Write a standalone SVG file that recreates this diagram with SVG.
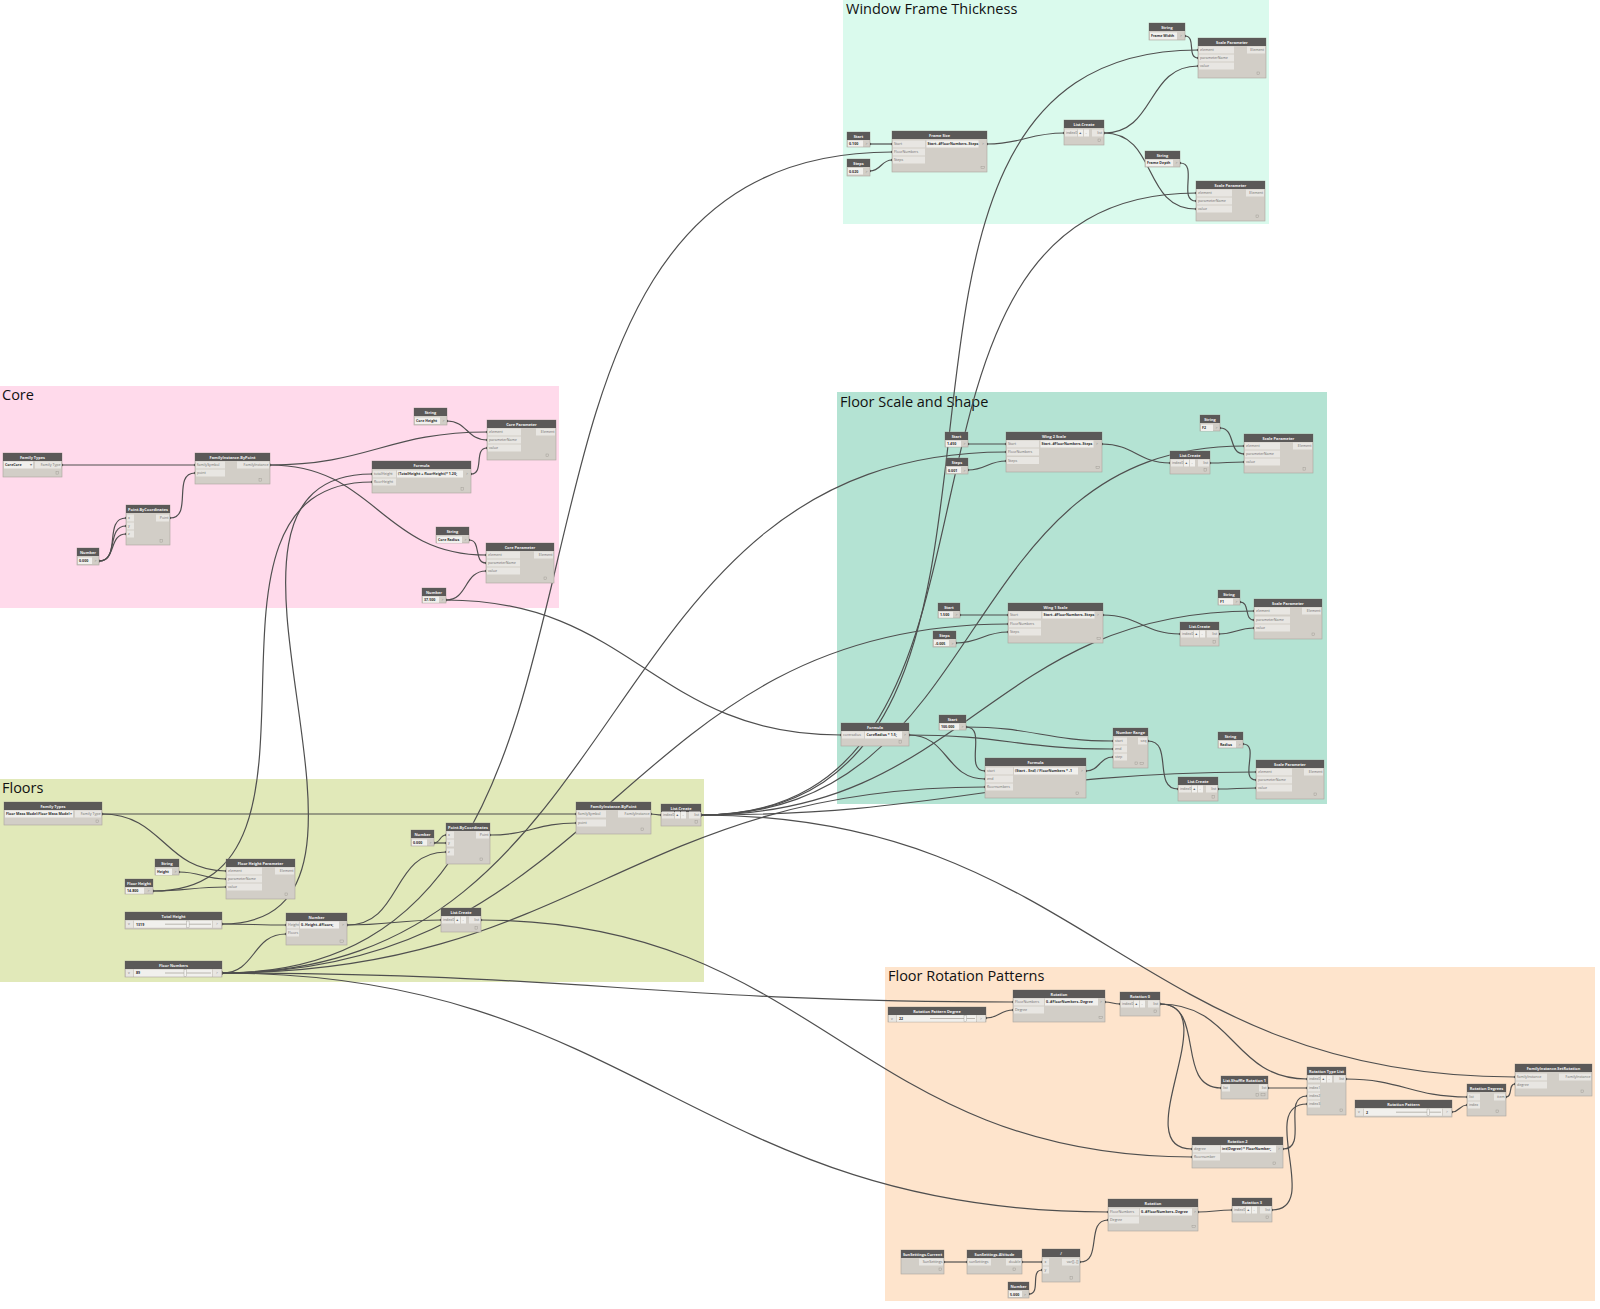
<svg xmlns="http://www.w3.org/2000/svg" width="1600" height="1309" viewBox="0 0 1600 1309">
<style>
.bg{stroke:none}
.gt{font-family:"Open Sans","Noto Sans",sans-serif;font-size:14.5px;fill:#111}
.bd{fill:#d2cec7;stroke:#aaa59d;stroke-width:.6}
.hd{fill:#5b5958}
.pc{fill:#e8e6e2}
.vc{fill:#f1f0ed}
.ht{font-family:"Open Sans","Noto Sans",sans-serif;font-size:3.9px;font-weight:700;fill:#f2f2f2;text-anchor:middle}
.pt{font-family:"Open Sans","Noto Sans",sans-serif;font-size:3.6px;fill:#6e6e6e}
.po{font-family:"Open Sans","Noto Sans",sans-serif;font-size:3.6px;fill:#6e6e6e;text-anchor:end}
.vt{font-family:"Open Sans","Noto Sans",sans-serif;font-size:3.6px;font-weight:700;fill:#2d2d2d}
.ic{fill:none;stroke:#9a968f;stroke-width:.4}
.tr{stroke:#b9b5ae;stroke-width:1}
.th{fill:#f4f3f1;stroke:#9a968f;stroke-width:.4}
.w{fill:none;stroke:#4f4f4f;stroke-width:1.2;marker-start:url(#dot);marker-end:url(#dot)}
</style>
<defs>
<marker id="dot" markerUnits="userSpaceOnUse" markerWidth="4" markerHeight="4" refX="2" refY="2"><circle cx="2" cy="2" r="1.2" fill="#333"/></marker>
</defs>
<rect width="1600" height="1309" fill="#ffffff"/>
<g id="groups">
<rect class="bg" x="843" y="0" width="426" height="224" fill="#dafaed"/>
<text class="gt" x="846" y="14">Window Frame Thickness</text>
<rect class="bg" x="0" y="386" width="559" height="222" fill="#ffdaeb"/>
<text class="gt" x="2" y="400">Core</text>
<rect class="bg" x="0" y="779" width="704" height="203" fill="#e1e9b9"/>
<text class="gt" x="2" y="793">Floors</text>
<rect class="bg" x="837" y="392" width="490" height="412" fill="#b4e3d3"/>
<text class="gt" x="840" y="407">Floor Scale and Shape</text>
<rect class="bg" x="885" y="967" width="710" height="334" fill="#fee4cc"/>
<text class="gt" x="888" y="981">Floor Rotation Patterns</text>
</g>
<g id="connectors">
<path class="w" d="M870,144 C880,144 882,144 892,144"/>
<path class="w" d="M870,171 C881,171 881,160 892,160"/>
<path class="w" d="M222,973 C699,973 415,152 892,152"/>
<path class="w" d="M987,144 C1022,144 1029,133 1064,133"/>
<path class="w" d="M1104,133 C1156,133 1146,66 1198,66"/>
<path class="w" d="M1104,133 C1158,133 1142,209 1196,209"/>
<path class="w" d="M1185,36 C1196.5,36 1186.5,58 1198,58"/>
<path class="w" d="M1180,163 C1198.5,163 1177.5,201 1196,201"/>
<path class="w" d="M701,815 C1111.5,815 787.5,50 1198,50"/>
<path class="w" d="M701,815 C1058.7,815 838.3,193 1196,193"/>
<path class="w" d="M62,465 C121.9,465 135.1,465 195,465"/>
<path class="w" d="M170,518 C193.2,518 171.8,473 195,473"/>
<path class="w" d="M99,561 C121.9,561 103.1,518 126,518"/>
<path class="w" d="M99,561 C118.9,561 106.1,526 126,526"/>
<path class="w" d="M99,561 C116.2,561 108.8,534 126,534"/>
<path class="w" d="M270,465 C368.8,465 388.2,432 487,432"/>
<path class="w" d="M270,465 C375.3,465 380.7,555 486,555"/>
<path class="w" d="M447,421 C466.9,421 467.1,440 487,440"/>
<path class="w" d="M471,474 C484.7,474 473.3,448 487,448"/>
<path class="w" d="M469,540 C481.9,540 473.1,563 486,563"/>
<path class="w" d="M446,600 C468.2,600 463.8,571 486,571"/>
<path class="w" d="M446,600 C633.8,600 653.2,735 841,735"/>
<path class="w" d="M222,924 C435.4,924 158.6,474 372,474"/>
<path class="w" d="M153,891 C361.8,891 163.2,482 372,482"/>
<path class="w" d="M102,814 C315.3,814 362.7,814 576,814"/>
<path class="w" d="M102,814 C163.4,814 164.6,871 226,871"/>
<path class="w" d="M179,872 C200.4,872 204.6,879 226,879"/>
<path class="w" d="M153,891 C185.9,891 193.1,887 226,887"/>
<path class="w" d="M222,924 C250.8,924 257.2,925 286,925"/>
<path class="w" d="M222,973 C255.7,973 252.3,934 286,934"/>
<path class="w" d="M347,925 C402.4,925 390.6,852 446,852"/>
<path class="w" d="M347,925 C389.4,925 398.6,920 441,920"/>
<path class="w" d="M434,843 C440.5,843 439.5,835 446,835"/>
<path class="w" d="M434,843 L446,843"/>
<path class="w" d="M490,835 C529,835 537,823 576,823"/>
<path class="w" d="M651,814 C655,814 657,815 661,815"/>
<path class="w" d="M481,920 C818.3,920 854.7,1157 1192,1157"/>
<path class="w" d="M222,973 C645.6,973 582.4,452 1006,452"/>
<path class="w" d="M222,973 C609,973 621,624 1008,624"/>
<path class="w" d="M222,973 C575.4,973 631.6,787 985,787"/>
<path class="w" d="M222,973 C578.2,973 656.8,1002 1013,1002"/>
<path class="w" d="M222,973 C635,973 695,1212 1108,1212"/>
<path class="w" d="M968,444 C985.1,444 988.9,444 1006,444"/>
<path class="w" d="M968,470 C985.6,470 988.4,461 1006,461"/>
<path class="w" d="M1102,444 C1133.8,444 1138.2,463 1170,463"/>
<path class="w" d="M1210,463 C1225.3,463 1228.7,462 1244,462"/>
<path class="w" d="M1220,428 C1235.9,428 1228.1,454 1244,454"/>
<path class="w" d="M701,815 C996.4,815 948.6,446 1244,446"/>
<path class="w" d="M960,615 C981.6,615 986.4,615 1008,615"/>
<path class="w" d="M956,643 C979.9,643 984.1,632 1008,632"/>
<path class="w" d="M1103,615 C1138.7,615 1144.3,634 1180,634"/>
<path class="w" d="M1219,634 C1235,634 1238,628 1254,628"/>
<path class="w" d="M1240,602 C1250.3,602 1243.7,620 1254,620"/>
<path class="w" d="M701,815 C966.2,815 988.8,611 1254,611"/>
<path class="w" d="M909,735 C1001,735 1021,749 1113,749"/>
<path class="w" d="M909,735 C948.5,735 945.5,779 985,779"/>
<path class="w" d="M966,727 C1032.5,727 1046.5,741 1113,741"/>
<path class="w" d="M966,727 C987.6,727 963.4,771 985,771"/>
<path class="w" d="M1086,771 C1099.7,771 1099.3,757 1113,757"/>
<path class="w" d="M1148,741 C1173.5,741 1152.5,789 1178,789"/>
<path class="w" d="M1218,789 C1235.1,789 1238.9,788 1256,788"/>
<path class="w" d="M1243,744 C1260.2,744 1238.8,780 1256,780"/>
<path class="w" d="M701,815 C951.5,815 1005.5,772 1256,772"/>
<path class="w" d="M986,1018 C998.7,1018 1000.3,1010 1013,1010"/>
<path class="w" d="M1105,1002 C1111.8,1002 1113.2,1004 1120,1004"/>
<path class="w" d="M1160,1004 C1206.7,1004 1174.3,1088 1221,1088"/>
<path class="w" d="M1160,1004 C1234.3,1004 1232.7,1079 1307,1079"/>
<path class="w" d="M1160,1004 C1226.8,1004 1125.2,1149 1192,1149"/>
<path class="w" d="M1268,1088 C1285.6,1088 1289.4,1088 1307,1088"/>
<path class="w" d="M1283,1149 C1309.2,1149 1280.8,1096 1307,1096"/>
<path class="w" d="M1272,1210 C1322.2,1210 1256.8,1104 1307,1104"/>
<path class="w" d="M1198,1212 C1213.3,1212 1216.7,1210 1232,1210"/>
<path class="w" d="M944,1262 L967,1262"/>
<path class="w" d="M1022,1262 L1042,1262"/>
<path class="w" d="M1029,1294 C1041.3,1294 1029.7,1270 1042,1270"/>
<path class="w" d="M1080,1262 C1102.7,1262 1085.3,1220 1108,1220"/>
<path class="w" d="M1346,1079 C1401,1079 1412,1097 1467,1097"/>
<path class="w" d="M1452,1112 C1459.5,1112 1459.5,1105 1467,1105"/>
<path class="w" d="M1506,1097 C1513.1,1097 1507.9,1084 1515,1084"/>
<path class="w" d="M701,815 C1085.8,815 1130.2,1077 1515,1077"/>
</g>

<!-- WINDOW FRAME THICKNESS -->
<g id="wf-string-width">
<rect class="bd" x="1149" y="23" width="36" height="17"/><rect class="hd" x="1149" y="23" width="36" height="8"/>
<text class="ht" x="1167" y="28.7">String</text>
<rect class="vc" x="1150" y="32.4" width="27" height="7"/><text class="vt" x="1151" y="37.3" font-weight="400">Frame Width</text><text class="pt" x="1180" y="37.3">&gt;</text>
</g>
<g id="wf-scale-param-1">
<rect class="bd" x="1198" y="38" width="68" height="40"/><rect class="hd" x="1198" y="38" width="68" height="8"/>
<text class="ht" x="1232" y="43.7">Scale Parameter</text>
<rect class="pc" x="1199" y="46.5" width="35" height="7"/><text class="pt" x="1200" y="51.3">element</text>
<rect class="pc" x="1199" y="54.5" width="35" height="7"/><text class="pt" x="1200" y="59.3">parameterName</text>
<rect class="pc" x="1199" y="62.5" width="35" height="7"/><text class="pt" x="1200" y="67.3">value</text>
<rect class="pc" x="1247" y="46.5" width="18" height="7"/><text class="po" x="1264" y="51.3">Element</text>
<rect class="ic" x="1257" y="72" width="2.6" height="2.6"/>
</g>
<g id="wf-start">
<rect class="bd" x="847" y="132" width="23" height="15"/><rect class="hd" x="847" y="132" width="23" height="8"/>
<text class="ht" x="858.5" y="137.7">Start</text>
<rect class="vc" x="848" y="140.5" width="15" height="6"/><text class="vt" x="849" y="145">0.100</text><text class="pt" x="865.5" y="145">&gt;</text>
</g>
<g id="wf-frame-size">
<rect class="bd" x="892" y="131" width="95" height="41"/><rect class="hd" x="892" y="131" width="95" height="8"/>
<text class="ht" x="939.5" y="136.7">Frame Size</text>
<rect class="pc" x="893" y="140.5" width="32" height="7"/><text class="pt" x="894" y="145.3">Start</text>
<rect class="pc" x="893" y="148.5" width="32" height="7"/><text class="pt" x="894" y="153.3">FloorNumbers</text>
<rect class="pc" x="893" y="156.5" width="32" height="7"/><text class="pt" x="894" y="161.3">Steps</text>
<rect class="vc" x="926.5" y="140.5" width="52" height="7"/><text class="vt" x="927.5" y="145.3">Start..#FloorNumbers..Steps</text>
<text class="pt" x="982" y="145.3">&gt;</text>
<rect class="ic" x="981" y="166.5" width="3.5" height="2.2"/>
</g>
<g id="wf-steps">
<rect class="bd" x="847" y="159" width="23" height="17"/><rect class="hd" x="847" y="159" width="23" height="8"/>
<text class="ht" x="858.5" y="164.7">Steps</text>
<rect class="vc" x="848" y="168" width="15" height="6.5"/><text class="vt" x="849" y="172.7">0.020</text><text class="pt" x="865.5" y="172.7">&gt;</text>
</g>
<g id="wf-list-create">
<rect class="bd" x="1064" y="120" width="40" height="25"/><rect class="hd" x="1064" y="120" width="40" height="8"/>
<text class="ht" x="1084" y="125.7">List.Create</text>
<rect class="pc" x="1065" y="129.5" width="12" height="7"/><text class="pt" x="1066" y="134.3">index0</text>
<rect class="vc" x="1078" y="129.5" width="5" height="7"/><text class="vt" x="1079.2" y="134.3">+</text>
<rect class="vc" x="1084" y="129.5" width="5" height="7"/><text class="pt" x="1085.6" y="134.3">-</text>
<rect class="pc" x="1092" y="129.5" width="11" height="7"/><text class="po" x="1102" y="134.3">list</text>
<rect class="ic" x="1098" y="139" width="2.6" height="2.6"/>
</g>
<g id="wf-string-depth">
<rect class="bd" x="1145" y="151" width="35" height="16"/><rect class="hd" x="1145" y="151" width="35" height="8"/>
<text class="ht" x="1162.5" y="156.7">String</text>
<rect class="vc" x="1146" y="159.7" width="27" height="6.5"/><text class="vt" x="1147" y="164.3" font-weight="400">Frame Depth</text><text class="pt" x="1175.5" y="164.3">&gt;</text>
</g>
<g id="wf-scale-param-2">
<rect class="bd" x="1196" y="181" width="69" height="40"/><rect class="hd" x="1196" y="181" width="69" height="8"/>
<text class="ht" x="1230.5" y="186.7">Scale Parameter</text>
<rect class="pc" x="1197" y="189.5" width="35" height="7"/><text class="pt" x="1198" y="194.3">element</text>
<rect class="pc" x="1197" y="197.5" width="35" height="7"/><text class="pt" x="1198" y="202.3">parameterName</text>
<rect class="pc" x="1197" y="205.5" width="35" height="7"/><text class="pt" x="1198" y="210.3">value</text>
<rect class="pc" x="1246" y="189.5" width="18" height="7"/><text class="po" x="1263" y="194.3">Element</text>
<rect class="ic" x="1256" y="215" width="2.6" height="2.6"/>
</g>

<!-- CORE -->
<g id="core-family-types">
<rect class="bd" x="3" y="453" width="59" height="24"/><rect class="hd" x="3" y="453" width="59" height="8"/>
<text class="ht" x="32.5" y="458.7">Family Types</text>
<rect class="vc" x="4" y="461.5" width="29" height="7"/><text class="vt" x="5" y="466.3" font-weight="400">CoreCore</text><text class="pt" x="30" y="466.3">▾</text>
<rect class="pc" x="35" y="461.5" width="26" height="7"/><text class="po" x="60.5" y="466.3">Family Type</text>
<rect class="ic" x="56" y="471.5" width="2.6" height="2.6"/>
</g>
<g id="core-familyinstance-bypoint">
<rect class="bd" x="195" y="453" width="75" height="31"/><rect class="hd" x="195" y="453" width="75" height="8"/>
<text class="ht" x="232.5" y="458.7">FamilyInstance.ByPoint</text>
<rect class="pc" x="196" y="461.5" width="29" height="7"/><text class="pt" x="197" y="466.3">familySymbol</text>
<rect class="pc" x="196" y="469.5" width="29" height="7"/><text class="pt" x="197" y="474.3">point</text>
<rect class="pc" x="237" y="461.5" width="32" height="7"/><text class="po" x="268.5" y="466.3">FamilyInstance</text>
<rect class="ic" x="259" y="478.5" width="2.6" height="2.6"/>
</g>
<g id="core-point-bycoordinates">
<rect class="bd" x="126" y="505" width="44" height="40"/><rect class="hd" x="126" y="505" width="44" height="8"/>
<text class="ht" x="148" y="510.7">Point.ByCoordinates</text>
<rect class="pc" x="127" y="514.5" width="7" height="7"/><text class="pt" x="128" y="519.3">x</text>
<rect class="pc" x="127" y="522.5" width="7" height="7"/><text class="pt" x="128" y="527.3">y</text>
<rect class="pc" x="127" y="530.5" width="7" height="7"/><text class="pt" x="128" y="535.3">z</text>
<rect class="pc" x="156" y="514.5" width="13" height="7"/><text class="po" x="168.5" y="519.3">Point</text>
<rect class="ic" x="160" y="539.5" width="2.6" height="2.6"/>
</g>
<g id="core-number">
<rect class="bd" x="77" y="548" width="22" height="17"/><rect class="hd" x="77" y="548" width="22" height="8"/>
<text class="ht" x="88" y="553.7">Number</text>
<rect class="vc" x="78" y="557.5" width="14" height="6.5"/><text class="vt" x="79" y="562.2">0.000</text><text class="pt" x="94.5" y="562.2">&gt;</text>
</g>
<g id="core-string-height">
<rect class="bd" x="414" y="408" width="33" height="17"/><rect class="hd" x="414" y="408" width="33" height="8"/>
<text class="ht" x="430.5" y="413.7">String</text>
<rect class="vc" x="415" y="417.5" width="25" height="6.5"/><text class="vt" x="416" y="422.2" font-weight="400">Core Height</text><text class="pt" x="442.5" y="422.2">&gt;</text>
</g>
<g id="core-parameter-1">
<rect class="bd" x="487" y="420" width="69" height="40"/><rect class="hd" x="487" y="420" width="69" height="8"/>
<text class="ht" x="521.5" y="425.7">Core Parameter</text>
<rect class="pc" x="488" y="428.5" width="33" height="7"/><text class="pt" x="489" y="433.3">element</text>
<rect class="pc" x="488" y="436.5" width="33" height="7"/><text class="pt" x="489" y="441.3">parameterName</text>
<rect class="pc" x="488" y="444.5" width="33" height="7"/><text class="pt" x="489" y="449.3">value</text>
<rect class="pc" x="536" y="428.5" width="19" height="7"/><text class="po" x="554.5" y="433.3">Element</text>
<rect class="ic" x="546" y="454" width="2.6" height="2.6"/>
</g>
<g id="core-formula">
<rect class="bd" x="372" y="461" width="99" height="32"/><rect class="hd" x="372" y="461" width="99" height="8"/>
<text class="ht" x="421.5" y="466.7">Formula</text>
<rect class="pc" x="373" y="470.5" width="23" height="7"/><text class="pt" x="374" y="475.3">totalHeight</text>
<rect class="pc" x="373" y="478.5" width="23" height="7"/><text class="pt" x="374" y="483.3">floorHeight</text>
<rect class="vc" x="397" y="470.5" width="66" height="7"/><text class="vt" x="398" y="475.3" font-size="3.3">(TotalHeight + floorHeight)* 1.20;</text>
<text class="pt" x="466" y="475.3">&gt;</text>
<rect class="ic" x="461" y="487.5" width="2.6" height="2.6"/>
</g>
<g id="core-string-radius">
<rect class="bd" x="436" y="527" width="33" height="16"/><rect class="hd" x="436" y="527" width="33" height="8"/>
<text class="ht" x="452.5" y="532.7">String</text>
<rect class="vc" x="437" y="536.5" width="25" height="6.5"/><text class="vt" x="438" y="541.2" font-weight="400">Core Radius</text><text class="pt" x="464.5" y="541.2">&gt;</text>
</g>
<g id="core-parameter-2">
<rect class="bd" x="486" y="543" width="68" height="40"/><rect class="hd" x="486" y="543" width="68" height="8"/>
<text class="ht" x="520" y="548.7">Core Parameter</text>
<rect class="pc" x="487" y="551.5" width="33" height="7"/><text class="pt" x="488" y="556.3">element</text>
<rect class="pc" x="487" y="559.5" width="33" height="7"/><text class="pt" x="488" y="564.3">parameterName</text>
<rect class="pc" x="487" y="567.5" width="33" height="7"/><text class="pt" x="488" y="572.3">value</text>
<rect class="pc" x="534" y="551.5" width="19" height="7"/><text class="po" x="552.5" y="556.3">Element</text>
<rect class="ic" x="544" y="577" width="2.6" height="2.6"/>
</g>
<g id="core-number-radius">
<rect class="bd" x="422" y="588" width="24" height="15"/><rect class="hd" x="422" y="588" width="24" height="8"/>
<text class="ht" x="434" y="593.7">Number</text>
<rect class="vc" x="423" y="596.7" width="16" height="6"/><text class="vt" x="424" y="601.2">37.500</text><text class="pt" x="441.5" y="601.2">&gt;</text>
</g>

<!-- FLOORS -->
<g id="fl-family-types">
<rect class="bd" x="4" y="802" width="98" height="23"/><rect class="hd" x="4" y="802" width="98" height="8"/>
<text class="ht" x="53" y="807.7">Family Types</text>
<rect class="vc" x="5" y="810.5" width="68" height="7"/><text class="vt" x="6" y="815.3" font-weight="400" font-size="3.4">Floor Mass Model:Floor Mass Model</text><text class="pt" x="70" y="815.3">▾</text>
<rect class="pc" x="75" y="810.5" width="26" height="7"/><text class="po" x="100.5" y="815.3">Family Type</text>
<rect class="ic" x="96" y="820" width="2.6" height="2.6"/>
</g>
<g id="fl-string-height">
<rect class="bd" x="155" y="859" width="24" height="16"/><rect class="hd" x="155" y="859" width="24" height="8"/>
<text class="ht" x="167" y="864.7">String</text>
<rect class="vc" x="156" y="868.5" width="16" height="6.5"/><text class="vt" x="157" y="873.2" font-weight="400">Height</text><text class="pt" x="174.5" y="873.2">&gt;</text>
</g>
<g id="fl-floor-height">
<rect class="bd" x="125" y="879" width="28" height="15"/><rect class="hd" x="125" y="879" width="28" height="8"/>
<text class="ht" x="139" y="884.7">Floor Height</text>
<rect class="vc" x="126" y="887.7" width="18" height="6"/><text class="vt" x="127" y="892.2">14.800</text><text class="pt" x="147.5" y="892.2">&gt;</text>
</g>
<g id="fl-floor-height-parameter">
<rect class="bd" x="226" y="859" width="69" height="40"/><rect class="hd" x="226" y="859" width="69" height="8"/>
<text class="ht" x="260.5" y="864.7">Floor Height Parameter</text>
<rect class="pc" x="227" y="867.5" width="35" height="7"/><text class="pt" x="228" y="872.3">element</text>
<rect class="pc" x="227" y="875.5" width="35" height="7"/><text class="pt" x="228" y="880.3">parameterName</text>
<rect class="pc" x="227" y="883.5" width="35" height="7"/><text class="pt" x="228" y="888.3">value</text>
<rect class="pc" x="275" y="867.5" width="19" height="7"/><text class="po" x="293.5" y="872.3">Element</text>
<rect class="ic" x="285" y="893" width="2.6" height="2.6"/>
</g>
<g id="fl-total-height">
<rect class="bd" x="125" y="912" width="97" height="17"/><rect class="hd" x="125" y="912" width="97" height="8"/>
<text class="ht" x="173.5" y="917.7">Total Height</text>
<rect class="pc" x="126" y="920.7" width="7" height="7"/><text class="pt" x="128" y="925.3">v</text>
<rect class="vc" x="134" y="920.7" width="78" height="7"/><text class="vt" x="136" y="925.5" font-weight="400">1319</text>
<line class="tr" x1="165" y1="924.2" x2="211" y2="924.2"/><rect class="th" x="186.5" y="921" width="2.6" height="6.4"/>
<rect class="pc" x="213" y="920.7" width="8" height="7"/><text class="pt" x="216" y="925.3">&gt;</text>
</g>
<g id="fl-floor-numbers">
<rect class="bd" x="125" y="961" width="97" height="16"/><rect class="hd" x="125" y="961" width="97" height="8"/>
<text class="ht" x="173.5" y="966.7">Floor Numbers</text>
<rect class="pc" x="126" y="969.5" width="7" height="7"/><text class="pt" x="128" y="974.2">v</text>
<rect class="vc" x="134" y="969.5" width="78" height="7"/><text class="vt" x="136" y="974.4" font-weight="400">89</text>
<line class="tr" x1="165" y1="973" x2="211" y2="973"/><rect class="th" x="184" y="969.8" width="2.6" height="6.4"/>
<rect class="pc" x="213" y="969.5" width="8" height="7"/><text class="pt" x="216" y="974.2">&gt;</text>
</g>
<g id="fl-number-code">
<rect class="bd" x="286" y="913" width="61" height="32"/><rect class="hd" x="286" y="913" width="61" height="8"/>
<text class="ht" x="316.5" y="918.7">Number</text>
<rect class="pc" x="287" y="921.5" width="12" height="7"/><text class="pt" x="288" y="926.3">Height</text>
<rect class="pc" x="287" y="929.5" width="12" height="7"/><text class="pt" x="288" y="934.3">Floors</text>
<rect class="vc" x="300" y="921.5" width="39" height="7"/><text class="vt" x="301" y="926.3">0..Height..#Floors;</text>
<text class="pt" x="342" y="926.3">&gt;</text>
<rect class="ic" x="340" y="940" width="3.5" height="2.2"/>
</g>
<g id="fl-number-zero">
<rect class="bd" x="411" y="830" width="23" height="16"/><rect class="hd" x="411" y="830" width="23" height="8"/>
<text class="ht" x="422.5" y="835.7">Number</text>
<rect class="vc" x="412" y="839.5" width="15" height="6"/><text class="vt" x="413" y="844">0.000</text><text class="pt" x="429.5" y="844">&gt;</text>
</g>
<g id="fl-point-bycoordinates">
<rect class="bd" x="446" y="823" width="44" height="41"/><rect class="hd" x="446" y="823" width="44" height="8"/>
<text class="ht" x="468" y="828.7">Point.ByCoordinates</text>
<rect class="pc" x="447" y="831.5" width="7" height="7"/><text class="pt" x="448" y="836.3">x</text>
<rect class="pc" x="447" y="839.5" width="7" height="7"/><text class="pt" x="448" y="844.3">y</text>
<rect class="pc" x="447" y="848.5" width="7" height="7"/><text class="pt" x="448" y="853.3">z</text>
<rect class="pc" x="476" y="831.5" width="13" height="7"/><text class="po" x="488.5" y="836.3">Point</text>
<rect class="ic" x="480" y="858" width="2.6" height="2.6"/>
</g>
<g id="fl-list-create-1">
<rect class="bd" x="441" y="908" width="40" height="24"/><rect class="hd" x="441" y="908" width="40" height="8"/>
<text class="ht" x="461" y="913.7">List.Create</text>
<rect class="pc" x="442" y="916.5" width="12" height="7"/><text class="pt" x="443" y="921.3">index0</text>
<rect class="vc" x="455" y="916.5" width="5" height="7"/><text class="vt" x="456.2" y="921.3">+</text>
<rect class="vc" x="461" y="916.5" width="5" height="7"/><text class="pt" x="462.6" y="921.3">-</text>
<rect class="pc" x="469" y="916.5" width="11" height="7"/><text class="po" x="479" y="921.3">list</text>
<rect class="ic" x="475" y="926.5" width="2.6" height="2.6"/>
</g>
<g id="fl-familyinstance-bypoint">
<rect class="bd" x="576" y="802" width="75" height="32"/><rect class="hd" x="576" y="802" width="75" height="8"/>
<text class="ht" x="613.5" y="807.7">FamilyInstance.ByPoint</text>
<rect class="pc" x="577" y="810.5" width="29" height="7"/><text class="pt" x="578" y="815.3">familySymbol</text>
<rect class="pc" x="577" y="819.5" width="29" height="7"/><text class="pt" x="578" y="824.3">point</text>
<rect class="pc" x="618" y="810.5" width="32" height="7"/><text class="po" x="649.5" y="815.3">FamilyInstance</text>
<rect class="ic" x="641" y="828" width="2.6" height="2.6"/>
</g>
<g id="fl-list-create-2">
<rect class="bd" x="661" y="804" width="40" height="22"/><rect class="hd" x="661" y="804" width="40" height="8"/>
<text class="ht" x="681" y="809.7">List.Create</text>
<rect class="pc" x="662" y="811.5" width="12" height="7"/><text class="pt" x="663" y="816.3">index0</text>
<rect class="vc" x="675" y="811.5" width="5" height="7"/><text class="vt" x="676.2" y="816.3">+</text>
<rect class="vc" x="681" y="811.5" width="5" height="7"/><text class="pt" x="682.6" y="816.3">-</text>
<rect class="pc" x="689" y="811.5" width="11" height="7"/><text class="po" x="699" y="816.3">list</text>
<rect class="ic" x="695" y="820.5" width="2.6" height="2.6"/>
</g>

<!-- FLOOR SCALE AND SHAPE -->
<g id="fs-start-wing2">
<rect class="bd" x="945" y="432" width="23" height="15"/><rect class="hd" x="945" y="432" width="23" height="8"/>
<text class="ht" x="956.5" y="437.7">Start</text>
<rect class="vc" x="946" y="440.7" width="15" height="6"/><text class="vt" x="947" y="445.2">1.450</text><text class="pt" x="963.5" y="445.2">&gt;</text>
</g>
<g id="fs-steps-wing2">
<rect class="bd" x="946" y="458" width="22" height="16"/><rect class="hd" x="946" y="458" width="22" height="8"/>
<text class="ht" x="957" y="463.7">Steps</text>
<rect class="vc" x="947" y="467" width="14" height="6"/><text class="vt" x="948" y="471.5">0.001</text><text class="pt" x="963.5" y="471.5">&gt;</text>
</g>
<g id="fs-wing2-scale">
<rect class="bd" x="1006" y="432" width="96" height="40"/><rect class="hd" x="1006" y="432" width="96" height="8"/>
<text class="ht" x="1054" y="437.7">Wing 2 Scale</text>
<rect class="pc" x="1007" y="440.5" width="32" height="7"/><text class="pt" x="1008" y="445.3">Start</text>
<rect class="pc" x="1007" y="448.5" width="32" height="7"/><text class="pt" x="1008" y="453.3">FloorNumbers</text>
<rect class="pc" x="1007" y="457" width="32" height="7"/><text class="pt" x="1008" y="461.8">Steps</text>
<rect class="vc" x="1040.5" y="440.5" width="53" height="7"/><text class="vt" x="1041.5" y="445.3">Start..#FloorNumbers..Steps</text>
<text class="pt" x="1096" y="445.3">&gt;</text>
<rect class="ic" x="1096" y="466.5" width="3.5" height="2.2"/>
</g>
<g id="fs-list-create-wing2">
<rect class="bd" x="1170" y="451" width="40" height="23"/><rect class="hd" x="1170" y="451" width="40" height="8"/>
<text class="ht" x="1190" y="456.7">List.Create</text>
<rect class="pc" x="1171" y="459.5" width="12" height="7"/><text class="pt" x="1172" y="464.3">index0</text>
<rect class="vc" x="1184" y="459.5" width="5" height="7"/><text class="vt" x="1185.2" y="464.3">+</text>
<rect class="vc" x="1190" y="459.5" width="5" height="7"/><text class="pt" x="1191.6" y="464.3">-</text>
<rect class="pc" x="1198" y="459.5" width="11" height="7"/><text class="po" x="1208" y="464.3">list</text>
<rect class="ic" x="1204" y="468.5" width="2.6" height="2.6"/>
</g>
<g id="fs-string-f2">
<rect class="bd" x="1200" y="415" width="20" height="16"/><rect class="hd" x="1200" y="415" width="20" height="8"/>
<text class="ht" x="1210" y="420.7">String</text>
<rect class="vc" x="1201" y="424.5" width="12" height="6.5"/><text class="vt" x="1202" y="429.2" font-weight="400">F2</text><text class="pt" x="1215.5" y="429.2">&gt;</text>
</g>
<g id="fs-scale-param-wing2">
<rect class="bd" x="1244" y="434" width="69" height="39"/><rect class="hd" x="1244" y="434" width="69" height="8"/>
<text class="ht" x="1278.5" y="439.7">Scale Parameter</text>
<rect class="pc" x="1245" y="442.5" width="35" height="7"/><text class="pt" x="1246" y="447.3">element</text>
<rect class="pc" x="1245" y="450.5" width="35" height="7"/><text class="pt" x="1246" y="455.3">parameterName</text>
<rect class="pc" x="1245" y="458.5" width="35" height="7"/><text class="pt" x="1246" y="463.3">value</text>
<rect class="pc" x="1293" y="442.5" width="19" height="7"/><text class="po" x="1311.5" y="447.3">Element</text>
<rect class="ic" x="1303" y="467.5" width="2.6" height="2.6"/>
</g>
<g id="fs-string-f1">
<rect class="bd" x="1218" y="590" width="22" height="15"/><rect class="hd" x="1218" y="590" width="22" height="8"/>
<text class="ht" x="1229" y="595.7">String</text>
<rect class="vc" x="1219" y="598.5" width="14" height="6"/><text class="vt" x="1220" y="603" font-weight="400">F1</text><text class="pt" x="1235.5" y="603">&gt;</text>
</g>
<g id="fs-scale-param-wing1">
<rect class="bd" x="1254" y="599" width="68" height="40"/><rect class="hd" x="1254" y="599" width="68" height="8"/>
<text class="ht" x="1288" y="604.7">Scale Parameter</text>
<rect class="pc" x="1255" y="607.5" width="35" height="7"/><text class="pt" x="1256" y="612.3">element</text>
<rect class="pc" x="1255" y="616.5" width="35" height="7"/><text class="pt" x="1256" y="621.3">parameterName</text>
<rect class="pc" x="1255" y="624.5" width="35" height="7"/><text class="pt" x="1256" y="629.3">value</text>
<rect class="pc" x="1302" y="607.5" width="19" height="7"/><text class="po" x="1320.5" y="612.3">Element</text>
<rect class="ic" x="1312" y="633" width="2.6" height="2.6"/>
</g>
<g id="fs-start-wing1">
<rect class="bd" x="938" y="603" width="22" height="15"/><rect class="hd" x="938" y="603" width="22" height="8"/>
<text class="ht" x="949" y="608.7">Start</text>
<rect class="vc" x="939" y="611.7" width="14" height="6"/><text class="vt" x="940" y="616.2">1.500</text><text class="pt" x="955.5" y="616.2">&gt;</text>
</g>
<g id="fs-wing1-scale">
<rect class="bd" x="1008" y="603" width="95" height="40"/><rect class="hd" x="1008" y="603" width="95" height="8"/>
<text class="ht" x="1055.5" y="608.7">Wing 1 Scale</text>
<rect class="pc" x="1009" y="611.5" width="32" height="7"/><text class="pt" x="1010" y="616.3">Start</text>
<rect class="pc" x="1009" y="620.5" width="32" height="7"/><text class="pt" x="1010" y="625.3">FloorNumbers</text>
<rect class="pc" x="1009" y="628.5" width="32" height="7"/><text class="pt" x="1010" y="633.3">Steps</text>
<rect class="vc" x="1042.5" y="611.5" width="52" height="7"/><text class="vt" x="1043.5" y="616.3">Start..#FloorNumbers..Steps</text>
<text class="pt" x="1097" y="616.3">&gt;</text>
<rect class="ic" x="1097" y="637.5" width="3.5" height="2.2"/>
</g>
<g id="fs-steps-wing1">
<rect class="bd" x="933" y="631" width="23" height="16"/><rect class="hd" x="933" y="631" width="23" height="8"/>
<text class="ht" x="944.5" y="636.7">Steps</text>
<rect class="vc" x="934" y="640" width="15" height="6"/><text class="vt" x="935" y="644.5">-0.005</text><text class="pt" x="951.5" y="644.5">&gt;</text>
</g>
<g id="fs-list-create-wing1">
<rect class="bd" x="1180" y="622" width="39" height="24"/><rect class="hd" x="1180" y="622" width="39" height="8"/>
<text class="ht" x="1199.5" y="627.7">List.Create</text>
<rect class="pc" x="1181" y="630.5" width="12" height="7"/><text class="pt" x="1182" y="635.3">index0</text>
<rect class="vc" x="1194" y="630.5" width="5" height="7"/><text class="vt" x="1195.2" y="635.3">+</text>
<rect class="vc" x="1200" y="630.5" width="5" height="7"/><text class="pt" x="1201.6" y="635.3">-</text>
<rect class="pc" x="1207" y="630.5" width="11" height="7"/><text class="po" x="1217" y="635.3">list</text>
<rect class="ic" x="1213" y="640.5" width="2.6" height="2.6"/>
</g>
<g id="fs-formula-coreradius">
<rect class="bd" x="841" y="723" width="68" height="23"/><rect class="hd" x="841" y="723" width="68" height="8"/>
<text class="ht" x="875" y="728.7">Formula</text>
<rect class="pc" x="842" y="731.5" width="22" height="7"/><text class="pt" x="843" y="736.3">coreradius</text>
<rect class="vc" x="865" y="731.5" width="37" height="7"/><text class="vt" x="866.5" y="736.3">CoreRadius * 1.5;</text>
<text class="pt" x="904" y="736.3">&gt;</text>
<rect class="ic" x="899" y="740.5" width="2.6" height="2.6"/>
</g>
<g id="fs-start-radius">
<rect class="bd" x="939" y="715" width="27" height="15"/><rect class="hd" x="939" y="715" width="27" height="8"/>
<text class="ht" x="952.5" y="720.7">Start</text>
<rect class="vc" x="940" y="723.7" width="19" height="6"/><text class="vt" x="941" y="728.2">100.000</text><text class="pt" x="961.5" y="728.2">&gt;</text>
</g>
<g id="fs-number-range">
<rect class="bd" x="1113" y="728" width="35" height="40"/><rect class="hd" x="1113" y="728" width="35" height="8"/>
<text class="ht" x="1130.5" y="733.7">Number Range</text>
<rect class="pc" x="1114" y="737.5" width="13" height="7"/><text class="pt" x="1115" y="742.3">start</text>
<rect class="pc" x="1114" y="745.5" width="13" height="7"/><text class="pt" x="1115" y="750.3">end</text>
<rect class="pc" x="1114" y="753.5" width="13" height="7"/><text class="pt" x="1115" y="758.3">step</text>
<rect class="pc" x="1138" y="737.5" width="9" height="7"/><text class="po" x="1146.5" y="742.3">seq</text>
<rect class="ic" x="1135" y="762" width="2.6" height="2.6"/><rect class="ic" x="1140" y="762.2" width="3.5" height="2.2"/>
</g>
<g id="fs-formula-step">
<rect class="bd" x="985" y="758" width="101" height="40"/><rect class="hd" x="985" y="758" width="101" height="8"/>
<text class="ht" x="1035.5" y="763.7">Formula</text>
<rect class="pc" x="986" y="767.5" width="27" height="7"/><text class="pt" x="987" y="772.3">start</text>
<rect class="pc" x="986" y="775.5" width="27" height="7"/><text class="pt" x="987" y="780.3">end</text>
<rect class="pc" x="986" y="783.5" width="27" height="7"/><text class="pt" x="987" y="788.3">floornumbers</text>
<rect class="vc" x="1014" y="767.5" width="64" height="7"/><text class="vt" x="1015" y="772.3">(Start - End) / FloorNumbers * -1</text>
<text class="pt" x="1081" y="772.3">&gt;</text>
<rect class="ic" x="1076" y="792" width="2.6" height="2.6"/>
</g>
<g id="fs-string-radius">
<rect class="bd" x="1218" y="732" width="25" height="16"/><rect class="hd" x="1218" y="732" width="25" height="8"/>
<text class="ht" x="1230.5" y="737.7">String</text>
<rect class="vc" x="1219" y="741" width="17" height="6.5"/><text class="vt" x="1220" y="745.6">Radius</text><text class="pt" x="1238.5" y="745.6">&gt;</text>
</g>
<g id="fs-list-create-radius">
<rect class="bd" x="1178" y="777" width="40" height="24"/><rect class="hd" x="1178" y="777" width="40" height="8"/>
<text class="ht" x="1198" y="782.7">List.Create</text>
<rect class="pc" x="1179" y="785.5" width="12" height="7"/><text class="pt" x="1180" y="790.3">index0</text>
<rect class="vc" x="1192" y="785.5" width="5" height="7"/><text class="vt" x="1193.2" y="790.3">+</text>
<rect class="vc" x="1198" y="785.5" width="5" height="7"/><text class="pt" x="1199.6" y="790.3">-</text>
<rect class="pc" x="1206" y="785.5" width="11" height="7"/><text class="po" x="1216" y="790.3">list</text>
<rect class="ic" x="1212" y="795.5" width="2.6" height="2.6"/>
</g>
<g id="fs-scale-param-radius">
<rect class="bd" x="1256" y="760" width="68" height="39"/><rect class="hd" x="1256" y="760" width="68" height="8"/>
<text class="ht" x="1290" y="765.7">Scale Parameter</text>
<rect class="pc" x="1257" y="768.5" width="35" height="7"/><text class="pt" x="1258" y="773.3">element</text>
<rect class="pc" x="1257" y="776.5" width="35" height="7"/><text class="pt" x="1258" y="781.3">parameterName</text>
<rect class="pc" x="1257" y="784.5" width="35" height="7"/><text class="pt" x="1258" y="789.3">value</text>
<rect class="pc" x="1304" y="768.5" width="19" height="7"/><text class="po" x="1322.5" y="773.3">Element</text>
<rect class="ic" x="1314" y="793" width="2.6" height="2.6"/>
</g>

<!-- FLOOR ROTATION PATTERNS -->
<g id="rp-rotation-1">
<rect class="bd" x="1013" y="990" width="92" height="32"/><rect class="hd" x="1013" y="990" width="92" height="8"/>
<text class="ht" x="1059" y="995.7">Rotation</text>
<rect class="pc" x="1014" y="998.5" width="30" height="7"/><text class="pt" x="1015" y="1003.3">FloorNumbers</text>
<rect class="pc" x="1014" y="1006.5" width="30" height="7"/><text class="pt" x="1015" y="1011.3">Degree</text>
<rect class="vc" x="1045" y="998.5" width="53" height="7"/><text class="vt" x="1046" y="1003.3">0..#FloorNumbers..Degree</text>
<text class="pt" x="1100" y="1003.3">&gt;</text>
<rect class="ic" x="1099" y="1016.5" width="3.5" height="2.2"/>
</g>
<g id="rp-rotation-pattern-degree">
<rect class="bd" x="888" y="1007" width="98" height="15"/><rect class="hd" x="888" y="1007" width="98" height="8"/>
<text class="ht" x="937" y="1012.7">Rotation Pattern Degree</text>
<rect class="pc" x="889" y="1015.2" width="7" height="6.5"/><text class="pt" x="891" y="1019.8">v</text>
<rect class="vc" x="897" y="1015.2" width="79" height="6.5"/><text class="vt" x="899" y="1019.9" font-weight="400">22</text>
<line class="tr" x1="930" y1="1018.5" x2="975" y2="1018.5"/><rect class="th" x="964" y="1015.4" width="2.6" height="6.2"/>
<rect class="pc" x="977" y="1015.2" width="8" height="6.5"/><text class="pt" x="980" y="1019.8">&gt;</text>
</g>
<g id="rp-rotation-0">
<rect class="bd" x="1120" y="992" width="40" height="24"/><rect class="hd" x="1120" y="992" width="40" height="8"/>
<text class="ht" x="1140" y="997.7">Rotation 0</text>
<rect class="pc" x="1121" y="1000.5" width="12" height="7"/><text class="pt" x="1122" y="1005.3">index0</text>
<rect class="vc" x="1134" y="1000.5" width="5" height="7"/><text class="vt" x="1135.2" y="1005.3">+</text>
<rect class="vc" x="1140" y="1000.5" width="5" height="7"/><text class="pt" x="1141.6" y="1005.3">-</text>
<rect class="pc" x="1148" y="1000.5" width="11" height="7"/><text class="po" x="1158" y="1005.3">list</text>
<rect class="ic" x="1154" y="1010" width="2.6" height="2.6"/>
</g>
<g id="rp-list-shuffle">
<rect class="bd" x="1221" y="1076" width="47" height="23"/><rect class="hd" x="1221" y="1076" width="47" height="8"/>
<text class="ht" x="1244.5" y="1081.7">List.Shuffle Rotation 1</text>
<rect class="pc" x="1222" y="1084.5" width="8" height="7"/><text class="pt" x="1223" y="1089.3">list</text>
<rect class="pc" x="1259" y="1084.5" width="8" height="7"/><text class="po" x="1266.5" y="1089.3">list</text>
<rect class="ic" x="1256" y="1093.5" width="2.6" height="2.6"/><rect class="ic" x="1261" y="1093.7" width="4" height="2.2"/>
</g>
<g id="rp-rotation-2">
<rect class="bd" x="1192" y="1137" width="91" height="31"/><rect class="hd" x="1192" y="1137" width="91" height="8"/>
<text class="ht" x="1237.5" y="1142.7">Rotation 2</text>
<rect class="pc" x="1193" y="1145.5" width="27" height="7"/><text class="pt" x="1194" y="1150.3">degree</text>
<rect class="pc" x="1193" y="1153.5" width="27" height="7"/><text class="pt" x="1194" y="1158.3">floornumber</text>
<rect class="vc" x="1221" y="1145.5" width="55" height="7"/><text class="vt" x="1222" y="1150.3">int(Degree) * FloorNumber;</text>
<text class="pt" x="1278" y="1150.3">&gt;</text>
<rect class="ic" x="1273" y="1162" width="2.6" height="2.6"/>
</g>
<g id="rp-rotation-bottom">
<rect class="bd" x="1108" y="1199" width="90" height="32"/><rect class="hd" x="1108" y="1199" width="90" height="8"/>
<text class="ht" x="1153" y="1204.7">Rotation</text>
<rect class="pc" x="1109" y="1208.5" width="30" height="7"/><text class="pt" x="1110" y="1213.3">FloorNumbers</text>
<rect class="pc" x="1109" y="1216.5" width="30" height="7"/><text class="pt" x="1110" y="1221.3">Degree</text>
<rect class="vc" x="1140" y="1208.5" width="52" height="7"/><text class="vt" x="1141" y="1213.3">0..#FloorNumbers..Degree</text>
<text class="pt" x="1194" y="1213.3">&gt;</text>
<rect class="ic" x="1192" y="1225.5" width="3.5" height="2.2"/>
</g>
<g id="rp-rotation-3">
<rect class="bd" x="1232" y="1198" width="40" height="24"/><rect class="hd" x="1232" y="1198" width="40" height="8"/>
<text class="ht" x="1252" y="1203.7">Rotation 3</text>
<rect class="pc" x="1233" y="1206.5" width="12" height="7"/><text class="pt" x="1234" y="1211.3">index0</text>
<rect class="vc" x="1246" y="1206.5" width="5" height="7"/><text class="vt" x="1247.2" y="1211.3">+</text>
<rect class="vc" x="1252" y="1206.5" width="5" height="7"/><text class="pt" x="1253.6" y="1211.3">-</text>
<rect class="pc" x="1260" y="1206.5" width="11" height="7"/><text class="po" x="1270" y="1211.3">list</text>
<rect class="ic" x="1266" y="1216" width="2.6" height="2.6"/>
</g>
<g id="rp-sunsettings-current">
<rect class="bd" x="901" y="1250" width="43" height="24"/><rect class="hd" x="901" y="1250" width="43" height="8"/>
<text class="ht" x="922.5" y="1255.7">SunSettings.Current</text>
<rect class="pc" x="919" y="1258.5" width="24" height="7"/><text class="po" x="942.5" y="1263.3">SunSettings</text>
<rect class="ic" x="939" y="1268" width="2.6" height="2.6"/>
</g>
<g id="rp-sunsettings-altitude">
<rect class="bd" x="967" y="1250" width="55" height="24"/><rect class="hd" x="967" y="1250" width="55" height="8"/>
<text class="ht" x="994.5" y="1255.7">SunSettings.Altitude</text>
<rect class="pc" x="968" y="1258.5" width="23" height="7"/><text class="pt" x="969" y="1263.3">sunSettings</text>
<rect class="pc" x="1006" y="1258.5" width="15" height="7"/><text class="po" x="1020.5" y="1263.3">double</text>
<rect class="ic" x="1013" y="1268" width="2.6" height="2.6"/>
</g>
<g id="rp-divide">
<rect class="bd" x="1042" y="1249" width="38" height="33"/><rect class="hd" x="1042" y="1249" width="38" height="8"/>
<text class="ht" x="1061" y="1254.7">/</text>
<rect class="pc" x="1043" y="1258.5" width="6" height="7"/><text class="pt" x="1044.5" y="1263.3">x</text>
<rect class="pc" x="1043" y="1266.5" width="6" height="7"/><text class="pt" x="1044.5" y="1271.3">y</text>
<rect class="pc" x="1062" y="1258.5" width="17" height="7"/><text class="po" x="1078.5" y="1263.3">var[]..[]</text>
<rect class="ic" x="1070" y="1276.5" width="2.6" height="2.6"/>
</g>
<g id="rp-number-five">
<rect class="bd" x="1008" y="1282" width="21" height="16"/><rect class="hd" x="1008" y="1282" width="21" height="8"/>
<text class="ht" x="1018.5" y="1287.7">Number</text>
<rect class="vc" x="1009" y="1291" width="13" height="6"/><text class="vt" x="1010" y="1295.5">5.000</text><text class="pt" x="1024" y="1295.5">&gt;</text>
</g>
<g id="rp-rotation-type-list">
<rect class="bd" x="1307" y="1067" width="39" height="48"/><rect class="hd" x="1307" y="1067" width="39" height="8"/>
<text class="ht" x="1326.5" y="1072.7">Rotation Type List</text>
<rect class="pc" x="1308" y="1075.5" width="12" height="7"/><text class="pt" x="1309" y="1080.3">index0</text>
<rect class="pc" x="1308" y="1084.5" width="12" height="7"/><text class="pt" x="1309" y="1089.3">index1</text>
<rect class="pc" x="1308" y="1092.5" width="12" height="7"/><text class="pt" x="1309" y="1097.3">index2</text>
<rect class="pc" x="1308" y="1100.5" width="12" height="7"/><text class="pt" x="1309" y="1105.3">index3</text>
<rect class="vc" x="1321" y="1075.5" width="5" height="7"/><text class="vt" x="1322.2" y="1080.3">+</text>
<rect class="vc" x="1327" y="1075.5" width="5" height="7"/><text class="pt" x="1328.6" y="1080.3">-</text>
<rect class="pc" x="1334" y="1075.5" width="11" height="7"/><text class="po" x="1344" y="1080.3">list</text>
<rect class="ic" x="1340" y="1109" width="2.6" height="2.6"/>
</g>
<g id="rp-rotation-pattern">
<rect class="bd" x="1355" y="1100" width="97" height="17"/><rect class="hd" x="1355" y="1100" width="97" height="8"/>
<text class="ht" x="1403.5" y="1105.7">Rotation Pattern</text>
<rect class="pc" x="1356" y="1108.7" width="7" height="7"/><text class="pt" x="1358" y="1113.3">v</text>
<rect class="vc" x="1364" y="1108.7" width="78" height="7"/><text class="vt" x="1366" y="1113.5" font-weight="400">2</text>
<line class="tr" x1="1396" y1="1112.2" x2="1441" y2="1112.2"/><rect class="th" x="1427" y="1109" width="2.6" height="6.4"/>
<rect class="pc" x="1443" y="1108.7" width="8" height="7"/><text class="pt" x="1446" y="1113.3">&gt;</text>
</g>
<g id="rp-rotation-degrees">
<rect class="bd" x="1467" y="1084" width="39" height="32"/><rect class="hd" x="1467" y="1084" width="39" height="8"/>
<text class="ht" x="1486.5" y="1089.7">Rotation Degrees</text>
<rect class="pc" x="1468" y="1093.5" width="12" height="7"/><text class="pt" x="1469" y="1098.3">list</text>
<rect class="pc" x="1468" y="1101.5" width="12" height="7"/><text class="pt" x="1469" y="1106.3">index</text>
<rect class="pc" x="1494" y="1093.5" width="11" height="7"/><text class="po" x="1504.5" y="1098.3">item</text>
<rect class="ic" x="1496" y="1110" width="2.6" height="2.6"/>
</g>
<g id="rp-setrotation">
<rect class="bd" x="1515" y="1064" width="77" height="32"/><rect class="hd" x="1515" y="1064" width="77" height="8"/>
<text class="ht" x="1553.5" y="1069.7">FamilyInstance.SetRotation</text>
<rect class="pc" x="1516" y="1073.5" width="31" height="7"/><text class="pt" x="1517" y="1078.3">familyInstance</text>
<rect class="pc" x="1516" y="1081.5" width="31" height="7"/><text class="pt" x="1517" y="1086.3">degree</text>
<rect class="pc" x="1559" y="1073.5" width="32" height="7"/><text class="po" x="1590.5" y="1078.3">FamilyInstance</text>
<rect class="ic" x="1581" y="1090" width="2.6" height="2.6"/>
</g>
</svg>
